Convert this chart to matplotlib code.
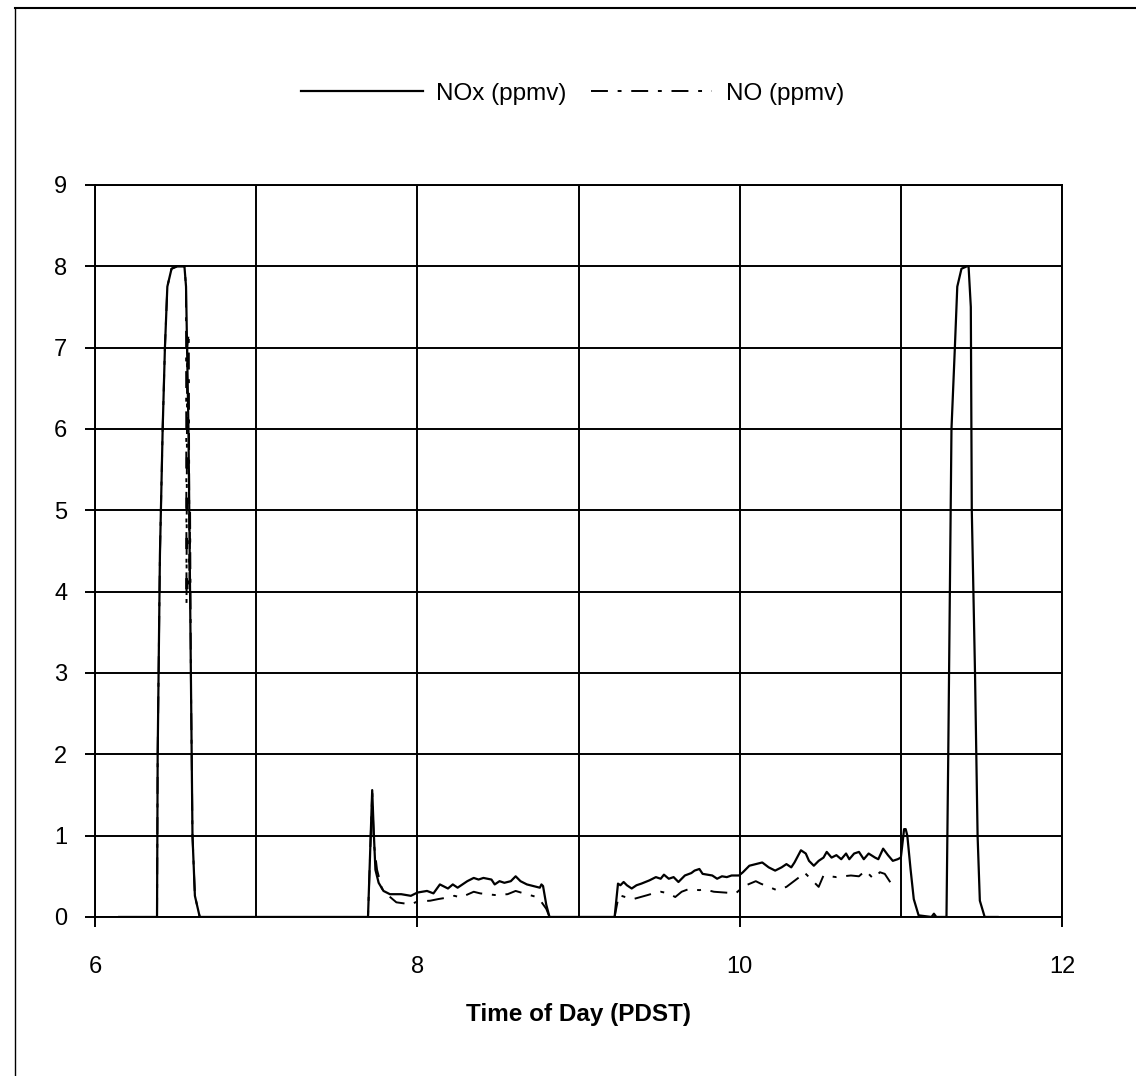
import matplotlib.pyplot as plt
import numpy as np
from matplotlib.lines import Line2D

plt.rcParams['font.family'] = ['Liberation Sans', 'DejaVu Sans']

# NOx trace (time of day, ppmv)
nox_t = [6.15, 6.385, 6.389, 6.403, 6.42, 6.434, 6.449, 6.475, 6.51, 6.555,
         6.565, 6.58, 6.595, 6.605, 6.62, 6.65, 7.694,
         7.72, 7.73, 7.74, 7.76, 7.79, 7.83, 7.90, 7.96, 8.0, 8.06, 8.10, 8.14,
         8.19, 8.22, 8.25, 8.28, 8.31, 8.35, 8.38, 8.41, 8.46, 8.48, 8.51, 8.54,
         8.58, 8.61, 8.64, 8.68, 8.72, 8.76, 8.77, 8.78, 8.80, 8.82, 9.224,
         9.245, 9.26, 9.28, 9.30, 9.33, 9.36, 9.39, 9.44, 9.48, 9.51, 9.53, 9.56,
         9.59, 9.62, 9.66, 9.70, 9.72, 9.75, 9.77, 9.80, 9.83, 9.86, 9.89, 9.92,
         9.95, 9.996, 10.02, 10.06, 10.10, 10.14, 10.18, 10.22, 10.26, 10.29,
         10.32, 10.34, 10.38, 10.41, 10.43, 10.46, 10.49, 10.52, 10.54, 10.57,
         10.60, 10.63, 10.66, 10.68, 10.71, 10.74, 10.77, 10.80, 10.84, 10.86,
         10.89, 10.92, 10.95, 10.98, 11.0, 11.02, 11.03, 11.04, 11.06, 11.08,
         11.11, 11.19, 11.205, 11.22, 11.283, 11.294, 11.304, 11.314, 11.335,
         11.35, 11.376, 11.41, 11.42, 11.434, 11.44, 11.46, 11.476, 11.49,
         11.52, 11.6]
nox_v = [0, 0, 2, 4.45, 6, 7, 7.75, 7.97, 8.0, 8.0,
         7.75, 6, 3, 1, 0.26, 0, 0,
         1.56, 1.03, 0.58, 0.42, 0.32, 0.28, 0.28, 0.26, 0.30, 0.32, 0.29, 0.40,
         0.35, 0.40, 0.36, 0.40, 0.44, 0.48, 0.46, 0.48, 0.46, 0.40, 0.44, 0.42,
         0.44, 0.50, 0.44, 0.40, 0.38, 0.36, 0.40, 0.38, 0.15, 0, 0,
         0.41, 0.39, 0.43, 0.39, 0.35, 0.39, 0.41, 0.45, 0.49, 0.47, 0.52, 0.47,
         0.49, 0.43, 0.51, 0.54, 0.57, 0.59, 0.53, 0.52, 0.51, 0.47, 0.50, 0.49,
         0.51, 0.51, 0.55, 0.63, 0.65, 0.67, 0.61, 0.57, 0.61, 0.65,
         0.61, 0.67, 0.82, 0.78, 0.69, 0.63, 0.69, 0.73, 0.80, 0.73,
         0.76, 0.71, 0.78, 0.71, 0.78, 0.80, 0.71, 0.78, 0.73, 0.71,
         0.84, 0.76, 0.69, 0.71, 0.73, 1.08, 1.08, 1.0, 0.59, 0.22,
         0.02, 0, 0.04, 0, 0, 2, 4, 6, 7,
         7.75, 7.97, 8.0, 8.0, 7.5, 5, 3, 1, 0.2,
         0, 0]

# NO trace (time of day, ppmv)
no_t = [6.15, 6.385, 6.389, 6.403, 6.42, 6.434, 6.449, 6.475, 6.51, 6.555,
        6.565, 6.568, 6.572, 6.582, 6.586, 6.59, 6.595, 6.605, 6.62, 6.65,
        7.694, 7.72, 7.73, 7.75, 7.78, 7.81, 7.87, 7.96, 8.0, 8.08, 8.13, 8.19,
        8.23, 8.27, 8.35, 8.39, 8.48, 8.56, 8.61, 8.66, 8.75, 8.80, 8.82,
        9.224, 9.25, 9.29, 9.34, 9.43, 9.48, 9.51, 9.56, 9.60, 9.64, 9.68,
        9.75, 9.78, 9.84, 9.91, 9.975, 10.01, 10.04, 10.10, 10.13, 10.18,
        10.23, 10.29, 10.33, 10.37, 10.40, 10.44, 10.49, 10.52, 10.60, 10.64,
        10.69, 10.74, 10.78, 10.83, 10.87, 10.90, 10.94]
no_v = [0, 0, 2, 4.45, 6, 7, 7.75, 7.97, 8.0, 8.0,
        7.75, 3.85, 7.0, 7.18, 4.0, 5.0, 3, 1, 0.26, 0,
        0, 1.52, 0.91, 0.58, 0.35, 0.28, 0.18, 0.155, 0.19, 0.20, 0.22, 0.24,
        0.26, 0.24, 0.31, 0.29, 0.27, 0.28, 0.32, 0.29, 0.24, 0.1, 0,
        0, 0.27, 0.245, 0.22, 0.27, 0.30, 0.31, 0.29, 0.245, 0.31, 0.34,
        0.33, 0.34, 0.31, 0.30, 0.29, 0.35, 0.39, 0.44, 0.41, 0.37,
        0.33, 0.37, 0.43, 0.49, 0.55, 0.47, 0.37, 0.51, 0.49, 0.50,
        0.51, 0.50, 0.57, 0.47, 0.55, 0.53, 0.41]

fig = plt.figure(figsize=(11.36, 10.76), dpi=100)
ax = fig.add_axes([0.0836, 0.1478, 0.8513, 0.6803])

ax.plot(nox_t, nox_v, color='black', lw=1.6, label='NOx (ppmv)')
ax.plot(no_t, no_v, color='black', lw=1.4, dashes=(8.7, 5, 2, 5), label='NO (ppmv)')

ax.set_xlim(6, 12)
ax.set_ylim(0, 9)
ax.set_xticks([6, 8, 10, 12])
ax.set_xticks([7, 9, 11], minor=True)
ax.set_yticks(range(0, 10))
ax.grid(True, which='both', color='black', lw=1.4)
ax.tick_params(which='major', direction='out', length=7, width=1.4, labelsize=17)
ax.tick_params(axis='x', pad=21)
ax.tick_params(axis='y', pad=13)
ax.tick_params(which='minor', length=0)
for s in ax.spines.values():
    s.set_linewidth(1.4)

ax.set_xlabel('Time of Day (PDST)', fontsize=17.5, fontweight='bold', labelpad=18)

fig.legend(loc='center', bbox_to_anchor=(0.504, 0.913), ncol=2, frameon=False,
           fontsize=17.5, handlelength=5, columnspacing=1.0, handletextpad=0.55)

# page border from the scanned sheet
fig.add_artist(Line2D([15 / 1136, 1], [1 - 8 / 1076, 1 - 8 / 1076], color='black', lw=1.5))
fig.add_artist(Line2D([15 / 1136, 15 / 1136], [0, 1 - 8 / 1076], color='black', lw=1.0))

fig.savefig('out.png', dpi=100)
